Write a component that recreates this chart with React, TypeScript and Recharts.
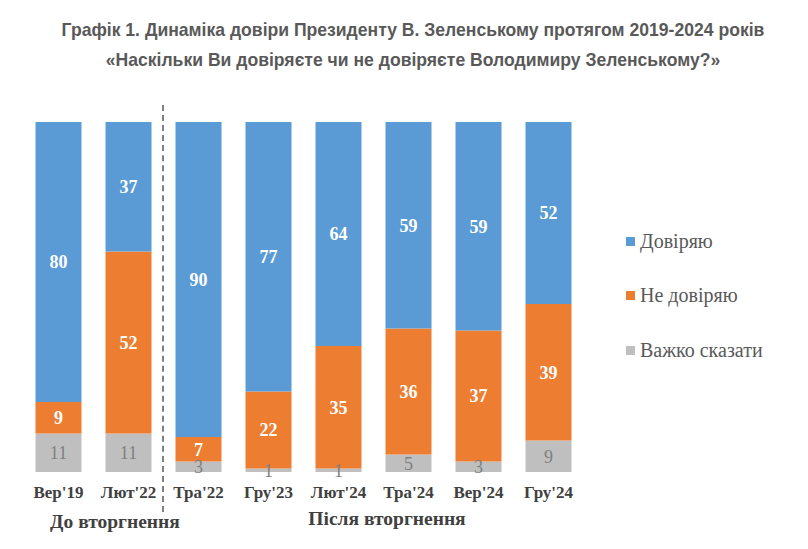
import { BarChart, Bar, XAxis, YAxis, LabelList } from 'recharts'

const categories = ["Вер'19", "Лют'22", "Тра'22", "Гру'23", "Лют'24", "Тра'24", "Вер'24", "Гру'24"]
const trust = [80, 37, 90, 77, 64, 59, 59, 52]
const distrust = [9, 52, 7, 22, 35, 36, 37, 39]
const hardToSay = [11, 11, 3, 1, 1, 5, 3, 9]

const SERIES = [
  { key: 'trust', name: 'Довіряю', color: '#5B9BD5' },
  { key: 'distrust', name: 'Не довіряю', color: '#ED7D31' },
  { key: 'hard', name: 'Важко сказати', color: '#BFBFBF' },
]

const data = categories.map((c, i) => ({
  label: c,
  trust: trust[i],
  distrust: distrust[i],
  hard: hardToSay[i],
}))

const SERIF = '"Liberation Serif", serif'
const SANS = '"Liberation Sans", Arial, sans-serif'

const LEFT = 23.5
const BAND = 70

export default function App() {
  return (
    <div style={{ position: 'absolute', left: 0, top: 0, width: 808, height: 549, background: '#fff' }}>
      <div style={{ position: 'absolute', left: 13, top: 15, width: 800, textAlign: 'center', fontFamily: SANS, fontWeight: 700, fontSize: 18.5, color: '#595959', lineHeight: '30px', transform: 'scaleX(0.95)' }}>
        <div>Графік 1. Динаміка довіри Президенту В. Зеленському протягом 2019-2024 років</div>
        <div>«Наскільки Ви довіряєте чи не довіряєте Володимиру Зеленському?»</div>
      </div>

      <BarChart
        width={808}
        height={549}
        data={data}
        stackOffset="expand"
        barSize={46}
        margin={{ top: 122, right: 808 - LEFT - BAND * categories.length, bottom: 47, left: LEFT }}
      >
        <YAxis hide domain={[0, 1]} />
        <XAxis
          dataKey="label"
          axisLine={false}
          tickLine={false}
          height={30}
          tickMargin={8}
          interval={0}
          tick={{ fill: '#404040', fontSize: 17, fontWeight: 700, fontFamily: SERIF }}
        />
        <Bar dataKey="hard" stackId="a" fill="#BFBFBF" isAnimationActive={false}>
          <LabelList dataKey="hard" position="center" fill="#7f7f7f" fontSize={18} fontFamily={SERIF} />
        </Bar>
        <Bar dataKey="distrust" stackId="a" fill="#ED7D31" isAnimationActive={false}>
          <LabelList dataKey="distrust" position="center" fill="#ffffff" fontSize={18} fontWeight={700} fontFamily={SERIF} />
        </Bar>
        <Bar dataKey="trust" stackId="a" fill="#5B9BD5" isAnimationActive={false}>
          <LabelList dataKey="trust" position="center" fill="#ffffff" fontSize={18} fontWeight={700} fontFamily={SERIF} />
        </Bar>
      </BarChart>

      {/* dashed divider between the 2nd and 3rd category bands */}
      <div style={{ position: 'absolute', left: LEFT + BAND * 2 - 1.5, top: 105, height: 407, width: 0, borderLeft: '2px dashed #808080' }} />

      <div style={{ position: 'absolute', left: 115, top: 511, transform: 'translateX(-50%)', whiteSpace: 'nowrap', fontFamily: SERIF, fontWeight: 700, fontSize: 19.5, color: '#404040' }}>
        До вторгнення
      </div>
      <div style={{ position: 'absolute', left: 387, top: 508, transform: 'translateX(-50%)', whiteSpace: 'nowrap', fontFamily: SERIF, fontWeight: 700, fontSize: 19.5, color: '#404040' }}>
        Після вторгнення
      </div>

      <div style={{ position: 'absolute', left: 626, top: 230 }}>
        {SERIES.map((s, i) => (
          <div key={s.key} style={{ display: 'flex', alignItems: 'center', height: 22, marginBottom: i < 2 ? 32.5 : 0, fontFamily: SERIF, fontSize: 20, color: '#595959' }}>
            <span style={{ width: 9, height: 9, background: s.color, marginRight: 5, display: 'inline-block' }} />
            {s.name}
          </div>
        ))}
      </div>
    </div>
  )
}
